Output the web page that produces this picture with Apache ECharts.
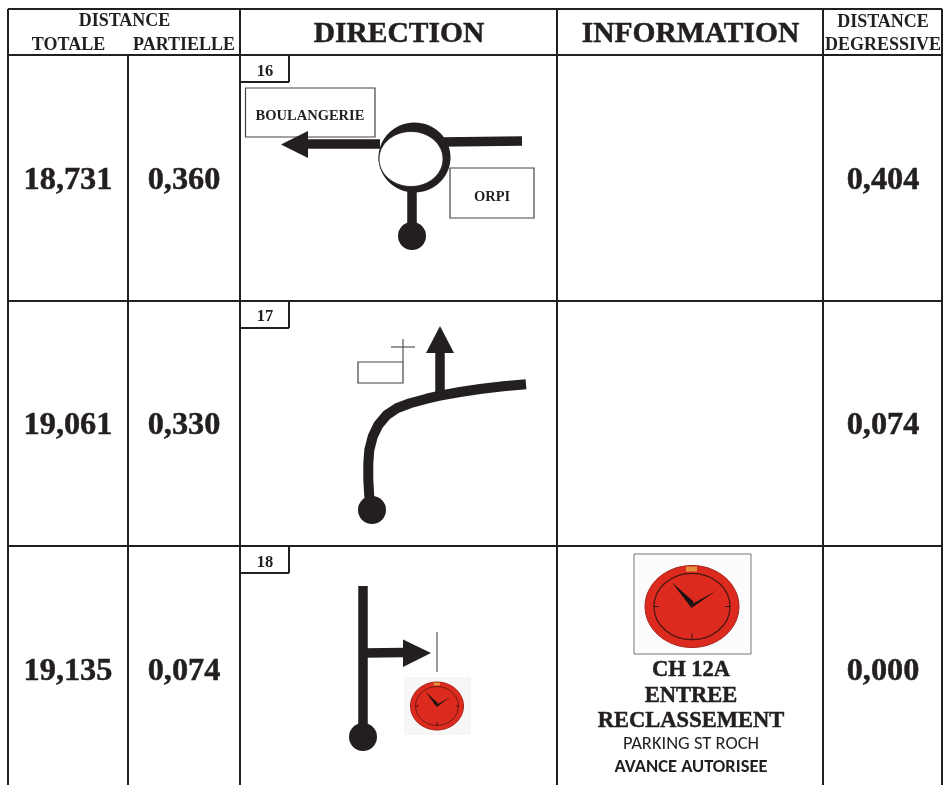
<!DOCTYPE html>
<html><head><meta charset="utf-8">
<style>html,body{margin:0;padding:0;background:#fff}#c{width:943px;height:785px}</style>
<script src="https://cdn.jsdelivr.net/npm/echarts@6/dist/echarts.min.js"></script>
</head><body><div id="c"></div>
<script>
// --- Values
var stepNumbers = ['16', '17', '18'];
var totals = ['18,731', '19,061', '19,135'];
var partials = ['0,360', '0,330', '0,074'];
var degressive = ['0,404', '0,074', '0,000'];
var headerWide = ['DIRECTION', 'INFORMATION'];
var infoLines = ['CH 12A', 'ENTREE', 'RECLASSEMENT'];
var infoNotes = ['PARKING ST ROCH', 'AVANCE AUTORISEE'];
// --- Table rules as data coordinates
var columnRules = [[8, 9, 785], [128, 55, 785], [240, 9, 785], [557, 9, 785], [823, 9, 785], [942, 9, 785]];
var rowRules = [9, 55, 301, 546];
var rowCentres = [178, 423, 669];
// --- Route diagrams as data coordinates
var roadsStraight = [
  [[380, 144], [305, 144]], [[442, 142], [522, 141]], [[412, 190], [412, 232]],
  [[440, 395], [440, 350]],
  [[363, 586], [363, 735]], [[363, 653], [405, 652.5]]
];
var roadCurve = [[371, 505], [369.3, 496.7], [368.3, 480], [368.3, 463.3], [369.3, 450], [372.7, 436.7], [378.3, 425], [386.7, 415], [396.7, 408.3], [410, 403.3], [426.7, 398.7], [440, 395.7], [460, 392], [480, 389], [503.3, 386.3], [526, 384.3]];
var arrowHeads = [
  [[281, 144.5], [308, 131], [308, 158]],
  [[440, 326], [426, 353], [454, 353]],
  [[431, 653], [403, 639.5], [403, 667]]
];
var roadDots = [[412, 236], [372, 510], [363, 737]];
var signBoxes = [[245.5, 88, 129.5, 49], [450, 168, 84, 50], [358, 362, 45, 21]];
var signStrokes = [[[403, 339], [403, 362]], [[391, 347], [415, 347]], [[437, 632], [437, 672]]];
var clocks = [[692, 606.5, 47, 41, 634, 554, 117, 100], [437, 706, 26.5, 24, 405, 678, 65, 56]];

var INK = '#231f20';
var SERIF = '"Liberation Serif","Times New Roman",serif';
var SANS = 'Carlito,Lato,"Open Sans",sans-serif';

var texts = [];
function addText(t, x, y, size, bold, fam) { texts.push({ t: t, x: x, y: y, size: size, bold: bold !== false, fam: fam || SERIF }); }
addText('DISTANCE', 124.5, 19.5, 18);
addText('TOTALE', 68.5, 43.5, 18);
addText('PARTIELLE', 184, 43.5, 18);
addText(headerWide[0], 399, 32, 29.5);
addText(headerWide[1], 690.5, 32, 29.5);
addText('DISTANCE', 883, 21, 18);
addText('DEGRESSIVE', 883, 43.5, 18);
rowCentres.forEach(function (y, i) {
  addText(totals[i], 68, y, 32.3);
  addText(partials[i], 184, y, 32.3);
  addText(degressive[i], 883, y, 32.3);
  addText(stepNumbers[i], 265, y - 108, 16.5);
});
addText('BOULANGERIE', 310, 115, 14.5);
addText('ORPI', 492, 195.5, 14.5);
[668, 694, 719].forEach(function (y, i) { addText(infoLines[i], 691, y, 22.5); });
addText(infoNotes[0], 691, 744, 18.5, false, SANS);
addText(infoNotes[1], 691, 767, 18.5, true, SANS);

function lineSeries(pts, width, color, z) {
  return { type: 'line', data: pts, showSymbol: false, symbol: 'none', silent: true, animation: false, z: z,
    lineStyle: { width: width, color: color, cap: 'butt', join: 'round' } };
}
var series = [];
columnRules.forEach(function (c) { series.push(lineSeries([[c[0], c[1]], [c[0], c[2]]], 2, INK, 3)); });
rowRules.forEach(function (y) { series.push(lineSeries([[8, y], [942, y]], 2, INK, 3)); });
rowRules.slice(1).forEach(function (y) {
  series.push(lineSeries([[240, y + 27], [289, y + 27]], 2, INK, 3));
  series.push(lineSeries([[289, y], [289, y + 27]], 2, INK, 3));
});
signStrokes.forEach(function (s) { series.push(lineSeries(s, 1.2, '#555', 3)); });
roadsStraight.forEach(function (r) { series.push(lineSeries(r, 9.5, INK, 4)); });
series.push(lineSeries(roadCurve, 10, INK, 4));

function at(api, x, y) { return api.coord([x, y]); }
function clockEls(api, c, idx) {
  var p = at(api, c[0], c[1]), k = c[2] / 47;
  var hy = c[3] / 41;
  var tick = function (a1, b1, a2, b2, w) {
    return { type: 'line', shape: { x1: p[0] + a1 * k, y1: p[1] + b1 * hy, x2: p[0] + a2 * k, y2: p[1] + b2 * hy }, style: { stroke: '#3a1410', lineWidth: w } };
  };
  var b = at(api, c[4], c[5]);
  var frame = idx === 0
    ? { type: 'rect', shape: { x: b[0], y: b[1], width: c[6], height: c[7] }, style: { fill: '#fcfcfc', stroke: '#777', lineWidth: 1 } }
    : { type: 'rect', shape: { x: b[0], y: b[1], width: c[6], height: c[7] }, style: { fill: '#f7f7f7', stroke: '#f0f0f0', lineWidth: 1 } };
  var els = [
    frame,
    { type: 'ellipse', shape: { cx: p[0], cy: p[1], rx: c[2], ry: c[3] }, style: { fill: '#dc2a1f', stroke: '#a8231a', lineWidth: 1 } },
    { type: 'ellipse', shape: { cx: p[0], cy: p[1], rx: c[2] * 0.81, ry: c[3] * 0.81 }, style: { fill: 'none', stroke: '#4a1610', lineWidth: Math.max(0.7, 1.3 * k) } },
    tick(-38, 0, -33, 0, 1), tick(38, 0, 33, 0, 1), tick(0, 33, 0, 27, 1),
    { type: 'rect', shape: { x: p[0] - 6 * k, y: p[1] - 40 * hy, width: 11 * k, height: 5 * hy }, style: { fill: '#e3913a' } },
    { type: 'polygon', shape: { points: [[p[0] - 20 * k, p[1] - 24 * hy], [p[0] + 1.5 * k, p[1] - 5 * hy], [p[0] - 0.5 * k, p[1] + 1.5 * hy]] }, style: { fill: '#1a1212' } },
    { type: 'polygon', shape: { points: [[p[0] + 23 * k, p[1] - 15 * hy], [p[0] + 1 * k, p[1] - 3 * hy], [p[0] - 0.5 * k, p[1] + 1.5 * hy]] }, style: { fill: '#1a1212' } }
  ];
  return els;
}
series.push({
  type: 'custom', z: 2, silent: true, animation: false, data: [0],
  renderItem: function (p, api) {
    var els = [];
    signBoxes.forEach(function (b) {
      var o = at(api, b[0], b[1]);
      els.push({ type: 'rect', shape: { x: o[0], y: o[1], width: b[2], height: b[3] }, style: { fill: '#fff', stroke: '#444', lineWidth: 1.2 } });
    });
    clocks.forEach(function (c, i) { els = els.concat(clockEls(api, c, i)); });
    return { type: 'group', children: els };
  }
});
series.push({
  type: 'custom', z: 5, silent: true, animation: false, data: [0],
  renderItem: function (p, api) {
    var els = [];
    var o = at(api, 414.5, 157.5), h = at(api, 411, 159);
    els.push({ type: 'ellipse', shape: { cx: o[0], cy: o[1], rx: 36, ry: 35 }, style: { fill: INK } });
    els.push({ type: 'ellipse', shape: { cx: h[0], cy: h[1], rx: 32, ry: 27.5 }, style: { fill: '#fff', stroke: INK, lineWidth: 0.8 } });
    arrowHeads.forEach(function (a) {
      els.push({ type: 'polygon', shape: { points: a.map(function (q) { return at(api, q[0], q[1]); }) }, style: { fill: INK } });
    });
    roadDots.forEach(function (d) {
      var c = at(api, d[0], d[1]);
      els.push({ type: 'circle', shape: { cx: c[0], cy: c[1], r: 14 }, style: { fill: INK } });
    });
    return { type: 'group', children: els };
  }
});
series.push({
  type: 'custom', z: 6, silent: true, animation: false, data: [0],
  renderItem: function (p, api) {
    return { type: 'group', children: texts.map(function (t) {
      var c = at(api, t.x, t.y);
      var serif = t.fam === SERIF;
      return { type: 'text', style: { text: t.t, x: c[0], y: c[1] + (serif ? t.size * 0.09 : 0), align: 'center', verticalAlign: 'middle', fill: INK,
        stroke: serif && t.size > 20 ? INK : null, lineWidth: serif && t.size > 20 ? 0.5 : 0,
        font: (t.bold ? 'bold ' : '') + t.size + 'px ' + t.fam } };
    }) };
  }
});

var chart = echarts.init(document.getElementById('c'));
chart.setOption({
  backgroundColor: '#fff', animation: false,
  grid: { left: 0, right: 0, top: 0, bottom: 0 },
  xAxis: { type: 'value', min: 0, max: 943, show: false },
  yAxis: { type: 'value', min: 0, max: 785, inverse: true, show: false },
  series: series
});
</script></body></html>
